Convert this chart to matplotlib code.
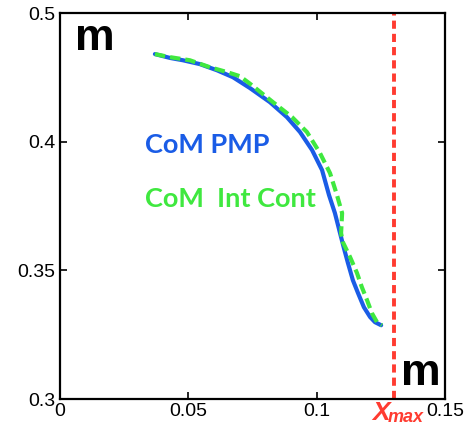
import matplotlib
matplotlib.use("Agg")
import matplotlib.pyplot as plt

# CoM trajectory, PMP solution
pmp_x = [0.0370, 0.0429, 0.0479, 0.0545, 0.0612, 0.0674, 0.0740, 0.0818,
         0.0884, 0.0935, 0.0982, 0.1021, 0.1048, 0.1071, 0.1091, 0.1106,
         0.1122, 0.1141, 0.1161, 0.1184, 0.1208, 0.1227, 0.1251]
pmp_y = [0.4341, 0.4326, 0.4317, 0.4302, 0.4278, 0.4251, 0.4209, 0.4154,
         0.4096, 0.4038, 0.3968, 0.3890, 0.3793, 0.3723, 0.3645, 0.3587,
         0.3528, 0.3462, 0.3412, 0.3357, 0.3319, 0.3299, 0.3287]

# CoM trajectory, integrated controller
int_x = [0.0370, 0.0429, 0.0506, 0.0584, 0.0651, 0.0701, 0.0740, 0.0830,
         0.0904, 0.0962, 0.1013, 0.1052, 0.1079, 0.1099, 0.1095, 0.1102,
         0.1130, 0.1157, 0.1176, 0.1196, 0.1215, 0.1235, 0.1254]
int_y = [0.4341, 0.4329, 0.4317, 0.4290, 0.4271, 0.4255, 0.4226, 0.4154,
         0.4096, 0.4038, 0.3956, 0.3878, 0.3793, 0.3723, 0.3645, 0.3610,
         0.3552, 0.3490, 0.3435, 0.3385, 0.3334, 0.3299, 0.3287]

x_max = 0.13

xticks = [0, 0.05, 0.1, 0.15]
xtick_labels = ["0", "0.05", "0.1", "0.15"]
yticks = [0.3, 0.35, 0.4, 0.45]
ytick_labels = ["0.3", "0.35", "0.4", "0.5"]

plt.rcParams["font.family"] = ["Liberation Sans", "DejaVu Sans"]

fig = plt.figure(figsize=(4.68, 4.25), dpi=100)
ax = fig.add_axes([0.128, 0.061, 0.823, 0.908])

blue = "#1a5ce6"
green = "#3fe83f"
red = "#ff3b30"

ax.plot(pmp_x, pmp_y, color=blue, lw=3.0, solid_capstyle="round",
        solid_joinstyle="round")
ax.plot(int_x, int_y, color=green, lw=3.0, ls=(0, (2.5, 1.2)))
ax.axvline(x_max, color=red, lw=2.8, ls=(0, (2.1, 1.3)))

ax.set_xlim(0, 0.15)
ax.set_ylim(0.3, 0.45)
ax.set_xticks(xticks)
ax.set_xticklabels(xtick_labels)
ax.set_yticks(yticks)
ax.set_yticklabels(ytick_labels)
ax.tick_params(direction="in", length=5, width=1.2, labelsize=14,
               top=True, right=True, pad=3)
for s in ax.spines.values():
    s.set_linewidth(1.6)

ax.text(0.038, 0.904, "m", transform=ax.transAxes, fontsize=32,
        fontweight="bold", va="baseline", ha="left")
ax.text(0.886, 0.036, "m", transform=ax.transAxes, fontsize=32,
        fontweight="bold", va="baseline", ha="left")

ax.text(0.0330, 0.3956, "CoM PMP", color=blue, fontsize=19.5,
        fontweight="bold", family=["Lato", "DejaVu Sans"], va="baseline")
ax.text(0.0330, 0.3746, "CoM  Int Cont", color=green, fontsize=19.5,
        fontweight="bold", family=["Lato", "DejaVu Sans"], va="baseline")

# X_max label below the axis, X and subscript drawn separately
xlab = ax.get_xaxis_transform()
ax.text(0.1217, -0.0545, "X", transform=xlab, color=red, fontsize=19,
        fontweight="bold", style="italic", va="baseline", ha="left",
        clip_on=False)
ax.text(0.1278, -0.0585, "max", transform=xlab, color=red, fontsize=13,
        fontweight="bold", style="italic", va="baseline", ha="left",
        clip_on=False)

fig.savefig("out.png", dpi=100)
